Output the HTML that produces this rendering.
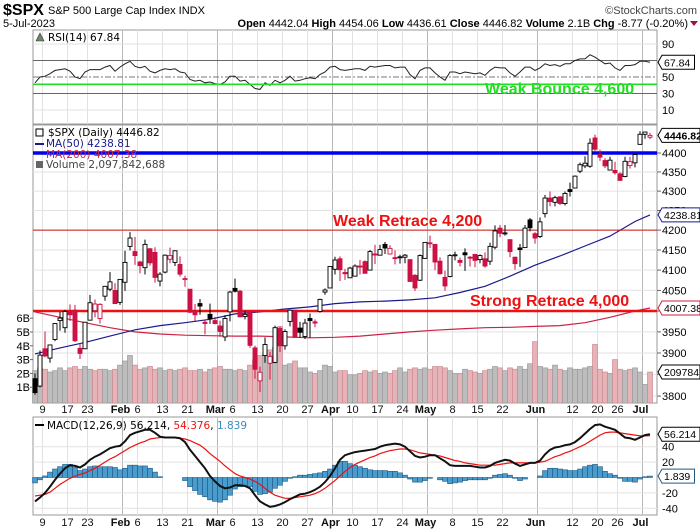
<!DOCTYPE html>
<html><head><meta charset="utf-8"><style>
html,body{margin:0;padding:0;background:#fff;width:700px;height:530px;overflow:hidden}
svg{display:block;font-family:"Liberation Sans",sans-serif}
</style></head><body>
<svg id="c" width="700" height="530" viewBox="0 0 700 530" xmlns="http://www.w3.org/2000/svg">
<g>
<text x="3" y="15" font-size="16" font-weight="bold">$SPX</text>
<text x="48" y="14" font-size="11">S&amp;P 500 Large Cap Index  INDX</text>
<text x="697" y="14" font-size="11" fill="#444" text-anchor="end">©StockCharts.com</text>
<text x="3" y="27" font-size="11">5-Jul-2023</text>
<text x="688" y="27" font-size="11" text-anchor="end"><tspan font-weight="bold">Open</tspan> 4442.04 <tspan font-weight="bold">High</tspan> 4454.06 <tspan font-weight="bold">Low</tspan> 4436.61 <tspan font-weight="bold">Close</tspan> 4446.82 <tspan font-weight="bold">Volume</tspan> 2.1B <tspan font-weight="bold">Chg</tspan> -8.77 (-0.20%)</text>
<path d="M690,21 L698,21 L694,26 Z" fill="#a0143a"/>
</g>
<g id="grid"></g>
<g id="vol"></g>
<g id="lines"></g>
<g id="candles"></g>
<g id="macd"></g>
<g id="rsi"></g>
<g id="axes"></g>
</svg>
<script>
const closes=[3808,3895,3893,3919,3970,3983,3999,3991,3929,3899,3973,4020,4017,4016,4060,4071,4018,4077,4119,4180,4136,4111,4164,4118,4082,4090,4137,4136,4148,4090,4079,3997,3991,4012,3970,3982,3970,3951,3982,4046,4048,3986,3992,3918,3862,3855,3920,3892,3960,3917,3951,4002,3937,3949,3971,3977,3971,4028,4051,4109,4125,4101,4091,4105,4110,4109,4092,4146,4138,4151,4155,4154,4130,4133,4137,4072,4056,4136,4169,4168,4120,4091,4061,4136,4138,4119,4138,4131,4124,4136,4110,4159,4198,4192,4193,4146,4116,4151,4205,4206,4180,4221,4282,4273,4283,4268,4294,4299,4339,4369,4373,4426,4410,4389,4366,4381,4348,4328,4378,4377,4396,4450,4456,4447];
const opens=[3840,3823,3910,3888,3932,3977,3960,3999,4002,3911,3910,3978,4001,3982,4036,4053,4050,4021,4070,4159,4146,4120,4106,4153,4144,4073,4095,4127,4119,4114,4077,4053,4001,4018,3973,3992,3977,3964,3938,3998,4055,4048,3987,3998,3912,3835,3894,3876,3878,3958,3917,3975,4002,3959,3939,3982,3974,3999,4046,4056,4102,4128,4094,4081,4085,4110,4121,4100,4140,4137,4164,4140,4131,4133,4132,4126,4087,4075,4129,4167,4164,4122,4082,4084,4137,4124,4143,4132,4139,4126,4128,4122,4157,4205,4191,4176,4132,4155,4156,4226,4191,4184,4242,4282,4271,4285,4268,4304,4308,4352,4366,4365,4440,4396,4380,4355,4354,4345,4338,4367,4374,4423,4450,4442];
const highs=[3852,3906,3951,3920,3971,3998,4003,4016,4015,3922,3974,4039,4028,4019,4061,4095,4068,4078,4148,4195,4183,4123,4176,4155,4157,4095,4139,4156,4149,4134,4086,4050,4017,4029,3979,4018,3986,3977,3990,4049,4079,4051,4000,4001,3917,3868,3937,3902,3965,3962,3956,4003,4003,3974,3981,3994,3980,4030,4055,4110,4133,4134,4103,4108,4114,4125,4124,4150,4163,4163,4170,4162,4149,4138,4140,4126,4090,4139,4170,4186,4164,4132,4098,4140,4146,4131,4154,4135,4139,4139,4144,4168,4212,4213,4213,4176,4133,4165,4213,4231,4195,4232,4290,4299,4288,4287,4299,4322,4341,4375,4391,4439,4449,4409,4386,4390,4377,4349,4390,4390,4398,4458,4456,4454];
const lows=[3803,3820,3890,3877,3928,3953,3948,3976,3926,3886,3909,3979,3985,3970,4025,4048,4018,4015,4049,4149,4113,4092,4089,4111,4069,4060,4092,4117,4110,4084,4059,3995,3976,3991,3944,3969,3968,3938,3928,3975,4045,3985,3980,3912,3840,3809,3877,3838,3876,3902,3908,3963,3936,3936,3933,3936,3961,3996,4039,4056,4089,4073,4076,4087,4096,4089,4099,4133,4115,4139,4140,4139,4114,4116,4117,4071,4049,4073,4128,4155,4100,4089,4049,4082,4124,4109,4098,4109,4107,4117,4106,4113,4152,4182,4186,4132,4101,4108,4155,4197,4166,4180,4232,4261,4261,4264,4263,4286,4307,4347,4360,4361,4403,4379,4360,4354,4343,4327,4336,4359,4362,4422,4438,4437];
const volumes=[2.2,2.4,2.3,2.1,2.2,2.4,2.2,2.4,2.5,2.3,2.5,2.3,2.2,2.3,2.3,2.2,2.3,2.6,2.9,3.3,2.6,2.3,2.4,2.5,2.3,2.4,2.2,2.3,2.2,2.3,2.4,2.2,2.2,2.3,2.1,2.3,2.4,2.5,2.3,2.3,2.2,2.3,2.2,2.6,3.0,3.3,3.4,3.7,3.9,5.4,2.6,2.7,2.9,2.4,2.4,2.1,2.0,2.2,2.6,2.5,2.1,2.2,2.2,1.9,1.9,2.0,2.2,2.1,2.2,2.0,2.1,2.0,2.2,2.4,2.1,2.3,2.4,2.3,2.4,2.3,2.5,2.5,2.4,2.2,2.0,2.0,2.3,2.2,2.1,2.0,2.2,2.3,2.5,2.4,2.2,2.4,2.3,2.5,2.3,2.7,4.3,2.5,2.4,2.3,2.6,2.3,2.2,2.4,2.3,2.3,2.4,2.5,4.1,2.3,2.1,2.0,3.0,2.3,2.2,2.3,2.4,2.1,1.2,2.1];
const rsiValues=[43,50,51,54,58,59,60,57,50,48,56,59,59,59,62,64,57,62,66,69,63,61,63,57,55,58,60,59,60,56,55,47,45,46,43,44,42,41,44,51,51,45,46,41,36,35,43,40,46,43,46,51,45,46,48,49,48,53,56,62,63,59,58,59,60,60,58,63,62,63,64,64,61,62,62,53,48,58,61,61,55,50,46,56,56,54,56,55,54,55,52,58,62,61,61,55,51,56,62,62,58,61,66,64,65,63,66,66,70,72,72,77,74,70,66,67,61,58,64,64,65,69,69,67.84];
const macdValues=[-31,-26,-20,-12,-3,5,12,16,15,13,17,23,27,30,34,38,40,41,47,55,58,60,62,62,58,53,52,52,52,51,46,36,28,20,12,2,-5,-11,-14,-13,-10,-10,-11,-14,-23,-31,-35,-38,-37,-35,-32,-28,-25,-22,-21,-19,-16,-12,-6,2,12,23,29,31,33,34,35,36,37,40,42,43,44,43,40,34,28,26,27,29,29,25,21,16,15,15,15,15,14,13,13,15,19,21,23,22,18,15,17,19,19,22,30,36,39,40,42,43,46,51,57,63,68,69,66,64,62,57,52,51,49,52,55,56.214];
const signalValues=[-24,-23,-22,-19,-14,-9,-5,-1,2,4,6,9,12,16,20,24,27,31,35,39,42,45,47,50,51,52,52,52,52,51,50,48,45,42,37,31,26,21,15,10,5,2,0,-2,-5,-9,-14,-19,-23,-25,-27,-27,-26,-25,-24,-23,-21,-18,-14,-9,-4,2,8,13,17,20,23,26,28,31,33,35,36,37,37,36,34,32,31,30,29,28,26,24,22,21,19,18,17,16,16,16,16,17,18,19,19,19,19,19,19,20,21,24,27,29,32,34,37,40,43,47,51,55,58,59,59,58,57,56,55,54,54,54.376];
const ma50Idx=[0,5,10,15,20,25,30,35,40,45,50,55,60,65,70,75,80,85,90,95,100,105,110,115,120,123];
const ma50Values=[3898,3912,3925,3940,3955,3965,3972,3980,3993,3998,4005,4010,4018,4022,4024,4027,4032,4045,4060,4085,4112,4135,4160,4185,4222,4238.81];
const ma200Idx=[0,5,10,15,20,25,30,35,40,45,50,55,60,65,70,75,80,85,90,95,100,105,110,115,120,123];
const ma200Values=[3998,3985,3972,3960,3950,3945,3942,3941,3940,3940,3938,3936,3937,3940,3945,3950,3954,3957,3960,3961,3963,3965,3972,3985,4000,4007.38];
const dateTickIdx=[2,7,11,18,21,26,31,37,40,45,50,55,60,64,69,74,79,84,89,94,101,108,113,117,122];
const dateTickLabels=["9","17","23","Feb","6","13","21","Mar","6","13","20","27","Apr","10","17","24","May","8","15","22","Jun","12","20","26","Jul"];
const priceTicks=[4400,4350,4300,4250,4200,4150,4100,4050,4000,3950,3900,3850,3800];
const rsiTicks=[90,70,50,30,10];
const rsiTickLabels=["90","","50","30","10"];
const macdTicks=[40,20,-20,-40];
const volTicks=[1,2,3,4,5,6];

const NS="http://www.w3.org/2000/svg";
const L=33,R=657;
const x=i=>35+5*i;
const rsiY=v=>77-(v-50)*0.825;
const pY=v=>153+1658*Math.log(4400/v);
const volY=b=>401-b*13.8;
const mY=v=>477.5-v*0.77;
function mk(parent,tag,attrs,text){const e=document.createElementNS(NS,tag);for(const k in attrs)e.setAttribute(k,attrs[k]);if(text!==undefined)e.textContent=text;document.getElementById(parent).appendChild(e);return e;}

const panels=[[30,124,'rsi-panel'],[125,403,'price-panel'],[417,515,'macd-panel']];
panels.forEach(p=>{const r=mk('grid','rect',{x:L,y:p[0],width:R-L,height:p[1]-p[0],fill:'#fff',stroke:'#999','stroke-width':1});

});
dateTickIdx.forEach((d,k)=>{const month=isNaN(+dateTickLabels[k]);const xx=x(d)-2.5;
panels.forEach(p=>{const ln=mk('grid','line',{x1:xx,x2:xx,y1:p[0],y2:p[1],stroke:month?'#b8b8b8':'#e2e2e2','stroke-width':1});

});
[409,522].forEach(ty=>{const t=mk('axes','text',{x:xx+(month?-2:0),y:ty+4,'font-size':11,'text-anchor':'middle','font-weight':month?'bold':'normal',fill:'#111'},dateTickLabels[k]);

});});
priceTicks.forEach(v=>{const y=pY(v);const g=mk('grid','line',{x1:L,x2:R,y1:y,y2:y,stroke:'#e2e2e2'});


mk('axes','line',{x1:R,x2:R+4,y1:y,y2:y,stroke:'#666'});
const t=mk('axes','text',{x:R+5,y:y+4,'font-size':11},String(v));

});
rsiTicks.forEach((v,k)=>{const y=rsiY(v);const dark=(v==70||v==30);
const g=mk('grid','line',{x1:L,x2:R,y1:y,y2:y,stroke:dark?'#666':(v==50?'#777':'#e2e2e2'),'stroke-dasharray':v==50?'6,2,2,2':'none'});


if(rsiTickLabels[k]){const t=mk('axes','text',{x:R+5,y:y+4,'font-size':11},rsiTickLabels[k]);

}});
macdTicks.forEach(v=>{const y=mY(v);const g=mk('grid','line',{x1:L,x2:R,y1:y,y2:y,stroke:'#e2e2e2'});


const t=mk('axes','text',{x:R+5,y:y+4,'font-size':11},String(v));

});
volTicks.forEach(b=>{const t=mk('axes','text',{x:30,y:volY(b)+4,'font-size':11,'text-anchor':'end'},b+'B');


mk('axes','line',{x1:30,x2:33,y1:volY(b),y2:volY(b),stroke:'#666'});});

volumes.forEach((b,i)=>{const down=i>0&&closes[i]<closes[i-1];
const r=mk('vol','rect',{x:x(i)-2.5,y:volY(b),width:5,height:403-volY(b),fill:down?'#e6b4b8':'#bdbdbd',stroke:down?'#cc8c93':'#9c9c9c','stroke-width':0.7});

});

function hline(y,col,w,name){const l=mk('lines','line',{x1:L,x2:R,y1:y,y2:y,stroke:col,'stroke-width':w});

}
function poly(idxArr,vals,col,name){const pts=idxArr.map((d,k)=>x(d)+','+pY(vals[k]).toFixed(1)).join(' ');
const p=mk('lines','polyline',{points:pts,fill:'none',stroke:col,'stroke-width':1.2});

}
poly(ma200Idx,ma200Values,'#cc2244','ma200-line');
poly(ma50Idx,ma50Values,'#1a1a8c','ma50-line');
hline(pY(4200),'#cc1111',1,'weak-retrace-line');
hline(pY(4000),'#ee1111',2.5,'strong-retrace-line');
hline(pY(4400),'#0000ee',3.5,'resistance-4400-line');

closes.forEach((c,i)=>{const o=opens[i];const down=i>0&&c<closes[i-1];const col=down?'#cc1144':'#000';
const xx=x(i);
const w=mk('candles','line',{x1:xx,x2:xx,y1:pY(highs[i]),y2:pY(lows[i]),stroke:col,'stroke-width':1});


const top=pY(Math.max(o,c)),bot=pY(Math.min(o,c));
const b=mk('candles','rect',{x:xx-2,y:top,width:4,height:Math.max(bot-top,1),fill:c>=o?'#fff':col,stroke:col,'stroke-width':0.9});

});

const rp=mk('rsi','polyline',{points:rsiValues.map((v,i)=>x(i)+','+rsiY(v).toFixed(1)).join(' '),fill:'none',stroke:'#222','stroke-width':1});


const gl=mk('rsi','line',{x1:L,x2:R,y1:84.3,y2:84.3,stroke:'#22dd22','stroke-width':1.6});



macdValues.forEach((m,i)=>{const h=m-signalValues[i];const y0=mY(0),y1=mY(h);
const r=mk('macd','rect',{x:x(i)-2.5,y:Math.min(y0,y1),width:5,height:Math.abs(y1-y0),fill:'#4a9ccc',stroke:'#1f5a85','stroke-width':0.6});

});
const sp=mk('macd','polyline',{points:signalValues.map((v,i)=>x(i)+','+mY(v).toFixed(1)).join(' '),fill:'none',stroke:'#ee1111','stroke-width':1.2});


const mp=mk('macd','polyline',{points:macdValues.map((v,i)=>x(i)+','+mY(v).toFixed(1)).join(' '),fill:'none',stroke:'#111','stroke-width':2});



function tag(y,txt,col,bold,name){const w=Math.min(txt.length*(bold?6.1:5.7)+4,699-(R+4));
const p=mk('axes','path',{d:`M${R+1},${y} L${R+5},${y-7} L${R+5+w},${y-7} L${R+5+w},${y+7} L${R+5},${y+7} Z`,fill:'#fff',stroke:col,'stroke-width':1});


const t=mk('axes','text',{x:R+7,y:y+4,'font-size':10.5,'font-weight':bold?'bold':'normal',fill:'#000'},txt);

}
tag(rsiY(rsiValues[rsiValues.length-1]),'67.84','#000',false,'rsi-value-tag');
tag(pY(closes[closes.length-1]),'4446.82','#000',true,'price-value-tag');
tag(pY(ma50Values[ma50Values.length-1]),'4238.81','#1a1a8c',false,'ma50-value-tag');
tag(pY(ma200Values[ma200Values.length-1]),'4007.38','#cc2244',false,'ma200-value-tag');
tag(volY(volumes[volumes.length-1]),'2097842','#000',false,'volume-value-tag');
tag(mY(macdValues[macdValues.length-1]),'56.214','#000',false,'macd-value-tag');
tag(mY(macdValues[macdValues.length-1]-signalValues[signalValues.length-1]),'1.839','#1f5a85',false,'histogram-value-tag');

function txt(g,xx,y,s,attrs,name){const t=mk(g,'text',Object.assign({x:xx,y:y},attrs),s);

return t;}
const lf='"DejaVu Sans",sans-serif';
txt('axes',48,41,'RSI(14) 67.84',{'font-size':10.5,'font-family':lf},'rsi-legend');
mk('axes','path',{d:'M36,41 L40,33 L44,41 Z',fill:'#6a8a6a',stroke:'#333','stroke-width':0.6});
txt('axes',48,136,'$SPX (Daily) 4446.82',{'font-size':10.5,'font-family':lf},'price-legend');
mk('axes','rect',{x:36,y:129,width:7,height:7,fill:'none',stroke:'#000'});
mk('axes','line',{x1:35,x2:44,y1:144,y2:144,stroke:'#1a1a8c','stroke-width':2});
txt('axes',46,147,'MA(50) 4238.81',{'font-size':10.5,'font-family':lf,fill:'#1a1a8c'},'ma50-legend');
txt('axes',46,158,'MA(200) 4007.38',{'font-size':10.5,'font-family':lf,fill:'#cc2244'},'ma200-legend');
mk('axes','rect',{x:36,y:161,width:7,height:7,fill:'#666'});
txt('axes',46,168,'Volume 2,097,842,688',{'font-size':10.5,'font-family':lf,fill:'#444'},'volume-legend');
mk('axes','line',{x1:35,x2:44,y1:425,y2:425,stroke:'#000','stroke-width':2});
const ml=txt('axes',47,429,'',{'font-size':10.5,'font-family':lf},'macd-legend');
ml.innerHTML='MACD(12,26,9) 56.214, <tspan fill="#ee1111">54.376</tspan>, <tspan fill="#3a8cc0">1.839</tspan>';
txt('axes',485,94,'Weak Bounce 4,600',{'font-size':16,'font-weight':'bold',fill:'#22dd22'},'weak-bounce-annotation');
txt('axes',333,226,'Weak Retrace 4,200',{'font-size':16,'font-weight':'bold',fill:'#ee1111'},'weak-retrace-annotation');
txt('axes',470,306,'Strong Retrace 4,000',{'font-size':16,'font-weight':'bold',fill:'#ee1111'},'strong-retrace-annotation');
</script>
</body></html>
